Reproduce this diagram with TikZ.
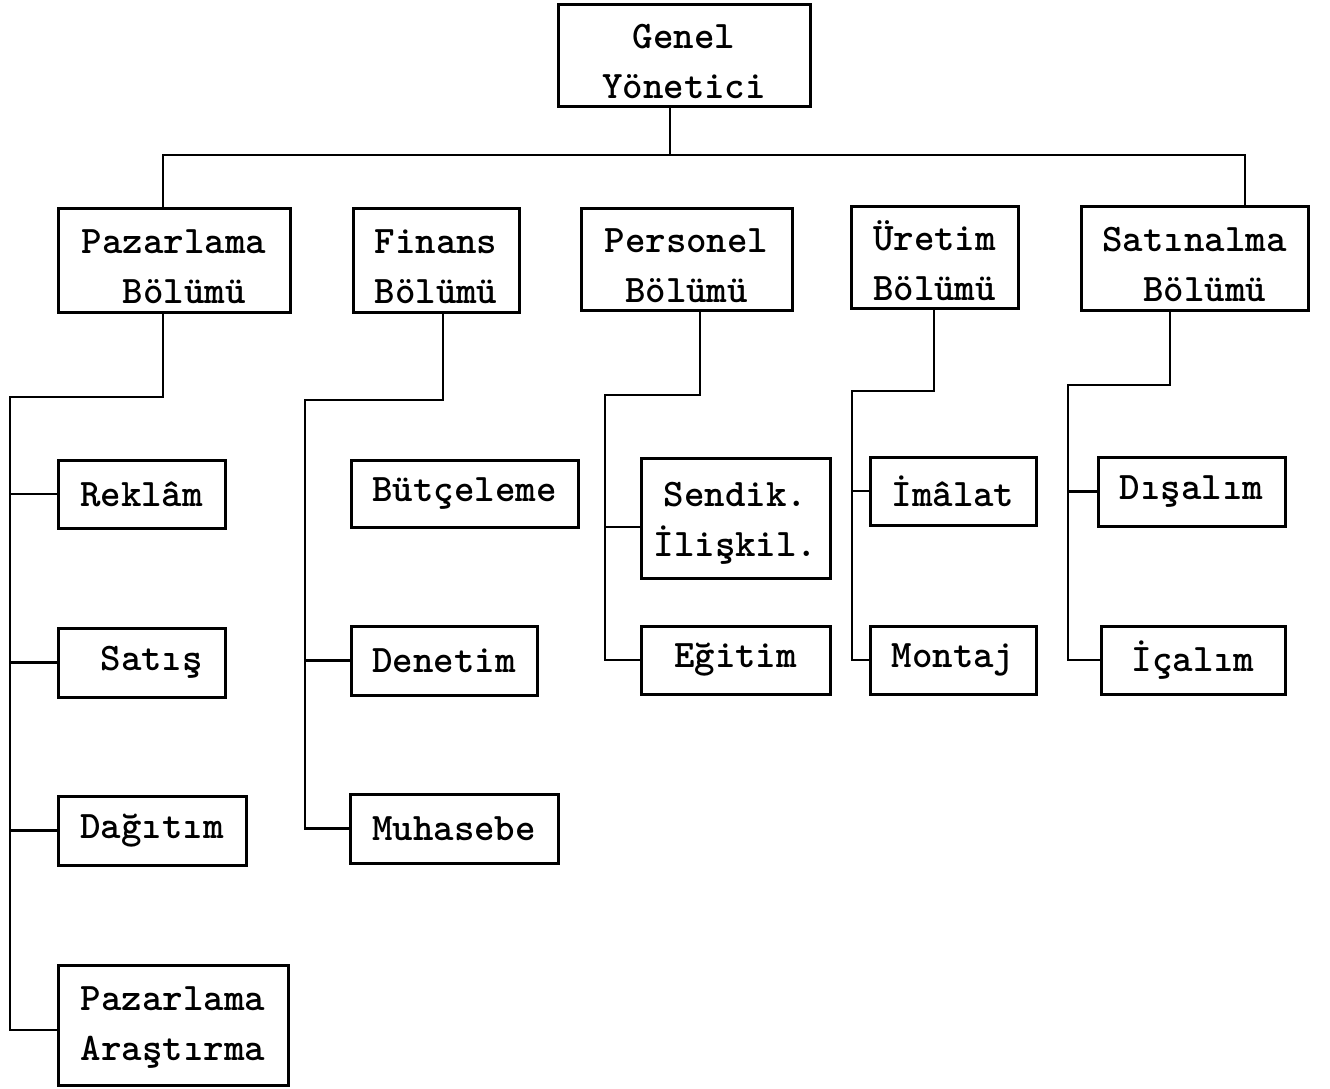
\documentclass[tikz,border=0pt]{standalone}
\usepackage{fontspec}
\begin{document}
\begin{tikzpicture}[x=1pt,y=-1pt,
  unit/.style={draw, line width=3pt, rectangle, inner sep=0pt, align=center,
    font=\ttfamily\bfseries\fontsize{39}{50}\selectfont},
  twoline/.style={unit, text height=86pt, text depth=0pt},
  link/.style={line width=2.3pt}]
\useasboundingbox (0,0) rectangle (1330,1089);

% top management
\node[twoline, minimum width=252, minimum height=102] (gy) at (684,56) {Genel\\Yönetici};

% departments
\node[twoline, minimum width=232, minimum height=104] (paz) at (174,260) {Pazarlama\\\ Bölümü};
\node[twoline, minimum width=166, minimum height=104] (fin) at (436,260) {Finans\\Bölümü};
\node[twoline, minimum width=211, minimum height=102] (per) at (686.5,259) {Personel\\Bölümü};
\node[twoline, minimum width=167, minimum height=102] (ure) at (934.5,257) {Üretim\\Bölümü};
\node[twoline, minimum width=227, minimum height=104] (sat) at (1194.5,258) {Satınalma\\\ Bölümü};

% marketing units
\node[unit, minimum width=167, minimum height=68] (rek) at (141.5,494) {Reklâm};
\node[unit, minimum width=167, minimum height=69] (sts) at (141.5,662.5) {\ Satış};
\node[unit, minimum width=188, minimum height=69] (dag) at (152,830.5) {Dağıtım};
\node[twoline, text height=70pt, minimum width=230, minimum height=120] (par) at (173,1025) {Pazarlama\\Araştırma};

% finance units
\node[unit, minimum width=227, minimum height=67] (but) at (464.5,493.5) {Bütçeleme};
\node[unit, minimum width=186, minimum height=69] (den) at (444,660.5) {Denetim};
\node[unit, minimum width=208, minimum height=69] (muh) at (454,828.5) {Muhasebe};

% personnel units
\node[twoline, text height=76pt, minimum width=189, minimum height=120] (sen) at (735.5,518) {Sendik.\\İlişkil.};
\node[unit, minimum width=189, minimum height=68] (egi) at (735.5,660) {Eğitim};

% production units
\node[unit, minimum width=166, minimum height=68] (ima) at (953,491) {İmâlat};
\node[unit, minimum width=166, minimum height=68] (mon) at (953,660) {Montaj};

% purchasing units
\node[unit, minimum width=187, minimum height=69] (dis) at (1191.5,491.5) {Dışalım};
\node[unit, minimum width=184, minimum height=68] (ica) at (1193,660) {İçalım};

% attachment points slightly below centre on the two-line boxes
\coordinate (parIn) at ([yshift=-5pt]par.west);
\coordinate (senIn) at ([yshift=-9pt]sen.west);

% main bus
\coordinate (bus) at (670,155);
\coordinate (bL) at (163,155);
\coordinate (bR) at (1245,155);
\draw[link] (bus |- gy.south) -- (bus);
\draw[link] (paz.north -| bL) -- (bL) -- (bR) -- (sat.north -| bR);

% marketing branch
\coordinate (pzA) at (163,397);
\coordinate (pzB) at (10,397);
\draw[link] (paz.south -| pzA) -- (pzA) -- (pzB) -- (pzB |- parIn) -- (parIn);
\draw[link] (pzB |- rek.west) -- (rek.west);
\draw[link] (pzB |- sts.west) -- (sts.west);
\draw[link] (pzB |- dag.west) -- (dag.west);

% finance branch
\coordinate (fnA) at (443,400);
\coordinate (fnB) at (305,400);
\draw[link] (fin.south -| fnA) -- (fnA) -- (fnB) -- (fnB |- muh.west) -- (muh.west);
\draw[link] (fnB |- den.west) -- (den.west);

% personnel branch
\coordinate (psA) at (700,395);
\coordinate (psB) at (605,395);
\draw[link] (per.south -| psA) -- (psA) -- (psB) -- (psB |- egi.west) -- (egi.west);
\draw[link] (psB |- senIn) -- (senIn);

% production branch
\coordinate (prA) at (934,391);
\coordinate (prB) at (852,391);
\draw[link] (ure.south -| prA) -- (prA) -- (prB) -- (prB |- mon.west) -- (mon.west);
\draw[link] (prB |- ima.west) -- (ima.west);

% purchasing branch
\coordinate (puA) at (1170,385);
\coordinate (puB) at (1068,385);
\draw[link] (sat.south -| puA) -- (puA) -- (puB) -- (puB |- ica.west) -- (ica.west);
\draw[link] (puB |- dis.west) -- (dis.west);
\end{tikzpicture}
\end{document}
